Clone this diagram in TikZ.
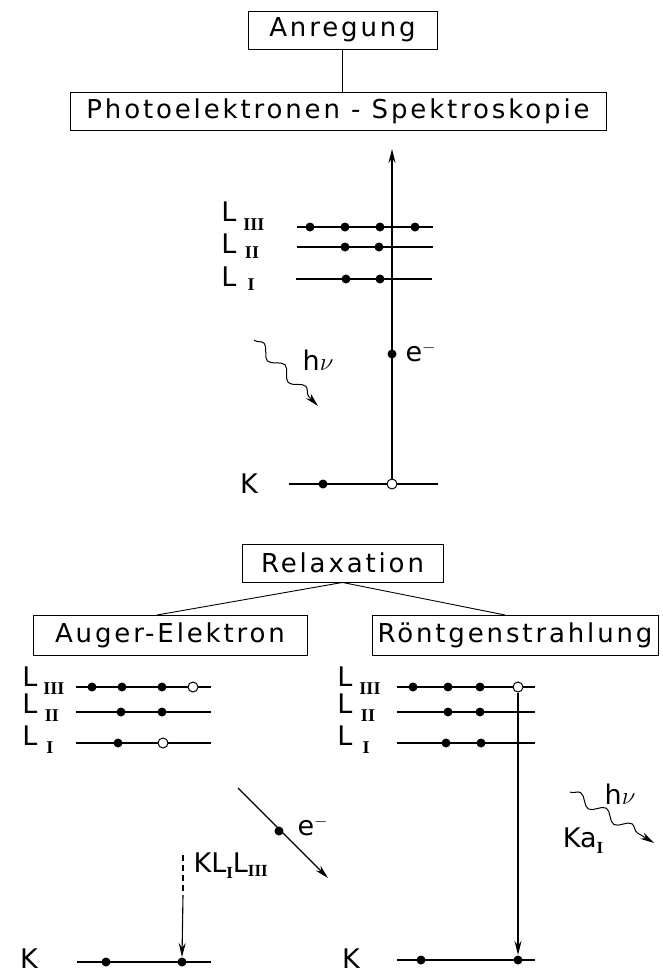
\documentclass[tikz,border=0pt]{standalone}
\usepackage{fontspec}
\setmainfont{DejaVu Sans}
\newfontfamily\tf{DejaVu Sans}[LetterSpace=11]
\newfontfamily\rn{Liberation Serif}
\usetikzlibrary{arrows.meta,decorations.pathmorphing}
\newcommand{\rnum}[2]{\raisebox{#1}{\rn\bfseries\fontsize{17}{17}\selectfont #2}}
\begin{document}
\begin{tikzpicture}[x=1pt,y=-1pt,line width=1.1pt,
  box/.style={draw,line width=0.9pt,inner sep=0pt,minimum height=38pt,font=\tf\fontsize{26}{30}\selectfont},
  full/.style={circle,fill=black,inner sep=0pt,minimum size=9pt},
  hole/.style={circle,draw,fill=white,line width=1pt,inner sep=0pt,minimum size=10pt},
  lab/.style={inner sep=0pt,font=\fontsize{27}{30}\selectfont},
  num/.style={inner sep=0pt,font=\rn\bfseries\fontsize{18}{20}\selectfont},
  arr/.style={-{Stealth[length=14pt,width=7pt]}},
  wave/.style={decorate,decoration={snake,amplitude=5pt,segment length=30pt,post length=9pt}}]
\useasboundingbox (0,0) rectangle (662,977);

% ---------- top boxes
\node[box,minimum width=189pt] (anr) at (342.5,30) {Anregung};
\node[box,minimum width=536pt] (pes) at (338,111) {Photoelektronen - Spektroskopie};
\draw[line width=0.9pt] (anr.south) -- (anr.south |- pes.north);

% ---------- upper levels
\coordinate (u3a) at (297,227); \coordinate (u3b) at (433,227);
\coordinate (u2a) at (297,247); \coordinate (u2b) at (433,247);
\coordinate (u1a) at (296,279); \coordinate (u1b) at (432,279);
\coordinate (uKa) at (289,484); \coordinate (uKb) at (438,484);
\draw (u3a) -- (u3b); \draw (u2a) -- (u2b); \draw (u1a) -- (u1b); \draw (uKa) -- (uKb);
\node[full] (u3d1) at (310,227) {}; \node[full] (u3d2) at (345,227) {};
\node[full] (u3d3) at (380,227) {}; \node[full] (u3d4) at (415,227) {};
\node[full] (u2d1) at (345,247) {}; \node[full] (u2d2) at (379,247) {};
\node[full] (u1d1) at (346,279) {}; \node[full] (u1d2) at (380,279) {};
\node[full] (uKd) at (323,484) {};
\node[hole] (uKh) at (392,484) {};
\coordinate (utop) at (392,149);
\draw[arr] (uKh.north) -- (utop);
\node[full] (ued) at (392,354) {};
\node[lab,anchor=west] (uel) at (405,352) {e$^{-}$};
\node[lab] (uL3) at (229,212) {L}; \node[num] (uL3n) at (254,225) {III};
\node[lab] (uL2) at (229,244) {L}; \node[num] (uL2n) at (252,253) {II};
\node[lab] (uL1) at (229,277) {L}; \node[num] (uL1n) at (251,285) {I};
\node[lab] (uK) at (249,484) {K};
\coordinate (uws) at (254,340); \coordinate (uwe) at (318,406);
\draw[wave,arr,line width=1pt] (uws) -- (uwe);
\node[lab] (uhv) at (318,360) {h$\nu$};

% ---------- relaxation
\node[box,minimum width=201pt] (rel) at (342.5,563) {Relaxation};
\node[box,minimum width=274pt,minimum height=40pt] (aug) at (170,635) {Auger-Elektron};
\node[box,minimum width=286pt,minimum height=40pt] (ron) at (515,635) {Röntgenstrahlung};
\draw[line width=0.9pt] (rel.south) -- (157,615) coordinate (augc);
\draw[line width=0.9pt] (rel.south) -- (505,615) coordinate (ronc);

% ---------- Auger levels
\coordinate (a3a) at (76,687); \coordinate (a3b) at (211,687);
\coordinate (a2a) at (76,712); \coordinate (a2b) at (211,712);
\coordinate (a1a) at (76,743); \coordinate (a1b) at (211,743);
\coordinate (aKa) at (77,962); \coordinate (aKb) at (211,962);
\draw (a3a) -- (a3b); \draw (a2a) -- (a2b); \draw (a1a) -- (a1b); \draw (aKa) -- (aKb);
\node[full] (a3d1) at (92,687) {}; \node[full] (a3d2) at (122,687) {};
\node[full] (a3d3) at (162,687) {}; \node[hole] (a3h) at (193,687) {};
\node[full] (a2d1) at (121,712) {}; \node[full] (a2d2) at (162,712) {};
\node[full] (a1d1) at (118,743) {}; \node[hole] (a1h) at (163,743) {};
\node[full] (aKd1) at (106,962) {}; \node[full] (aKd2) at (182,962) {};
\node[lab] (aL3) at (30,677) {L}; \node[num] (aL3n) at (54,689) {III};
\node[lab] (aL2) at (30,704) {L}; \node[num] (aL2n) at (52,716) {II};
\node[lab] (aL1) at (30,736) {L}; \node[num] (aL1n) at (50,748) {I};
\node[lab] (aK) at (29,959) {K};
\coordinate (aes) at (238,788); \coordinate (aee) at (328,878);
\draw[arr] (aes) -- (aee);
\node[full] (aed) at (279,831) {};
\node[lab,anchor=west] (ael) at (297,826) {e$^{-}$};
\coordinate (adt) at (183,855); \coordinate (adm) at (183,895);
\draw[dash pattern=on 6pt off 4pt] (adt) -- (adm);
\draw[arr] (adm) -- (aKd2.north);
\node[lab,anchor=west] (akll) at (193,866) {KL\rnum{-6pt}{I}L\rnum{-4pt}{III}};

% ---------- Roentgen levels
\coordinate (r3a) at (397,687); \coordinate (r3b) at (535,687);
\coordinate (r2a) at (397,712); \coordinate (r2b) at (535,712);
\coordinate (r1a) at (397,743); \coordinate (r1b) at (535,743);
\coordinate (rKa) at (397,960); \coordinate (rKb) at (535,960);
\draw (r3a) -- (r3b); \draw (r2a) -- (r2b); \draw (r1a) -- (r1b); \draw (rKa) -- (rKb);
\node[full] (r3d1) at (413,687) {}; \node[full] (r3d2) at (448,687) {};
\node[full] (r3d3) at (480,687) {}; \node[hole] (r3h) at (518,687) {};
\node[full] (r2d1) at (448,712) {}; \node[full] (r2d2) at (480,712) {};
\node[full] (r1d1) at (446,743) {}; \node[full] (r1d2) at (481,743) {};
\node[full] (rKd1) at (421,960) {}; \node[full] (rKd2) at (518,960) {};
\draw[arr] (r3h.south) -- (rKd2.north);
\node[lab] (rL3) at (345,677) {L}; \node[num] (rL3n) at (370,689) {III};
\node[lab] (rL2) at (345,704) {L}; \node[num] (rL2n) at (368,716) {II};
\node[lab] (rL1) at (345,736) {L}; \node[num] (rL1n) at (366,748) {I};
\node[lab] (rK) at (351,959) {K};
\coordinate (rws) at (570,792); \coordinate (rwe) at (654,843);
\draw[wave,arr,line width=1pt] (rws) -- (rwe);
\node[lab] (rhv) at (620,794) {h$\nu$};
\node[lab] (rka) at (583,841) {Ka\rnum{-6pt}{I}};
\end{tikzpicture}
\end{document}
